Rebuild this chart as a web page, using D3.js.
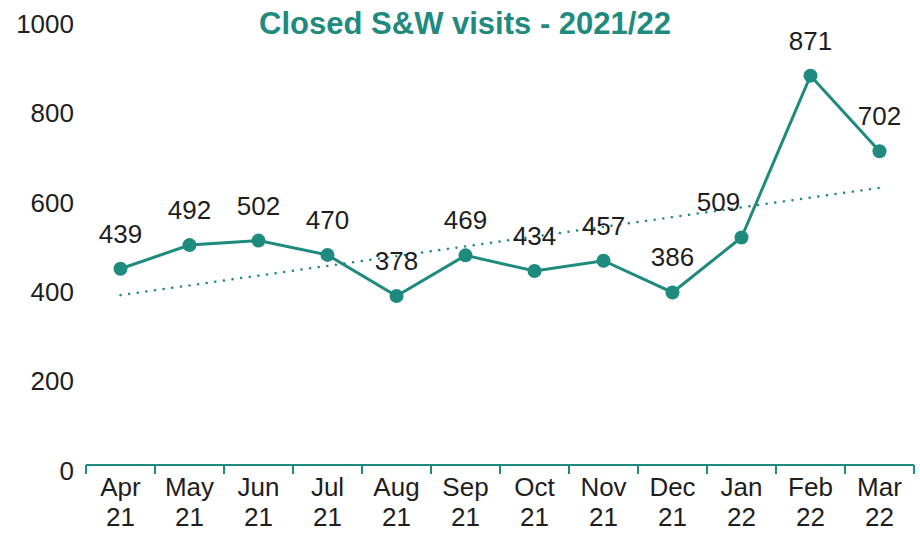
<!DOCTYPE html>
<html>
<head>
<meta charset="utf-8">
<script src="https://cdn.jsdelivr.net/npm/d3@7"></script>
<style>
  body { margin: 0; background: #fff; }
  text { font-family: "Liberation Sans", Arial, sans-serif; }
</style>
</head>
<body>
<div id="chart-area"></div>
<script>
// data
var months = ["Apr", "May", "Jun", "Jul", "Aug", "Sep", "Oct", "Nov", "Dec", "Jan", "Feb", "Mar"];
var years = ["21", "21", "21", "21", "21", "21", "21", "21", "21", "22", "22", "22"];
var visits = [439, 492, 502, 470, 378, 469, 434, 457, 386, 509, 871, 702];
var trendEnds = [380, 620]; // dotted trend line, first and last month
var yTicks = [0, 200, 400, 600, 800, 1000];

var width = 920,
    height = 533,
    teal = "#1f8a7e",
    ink = "#1e1e1e";

var svg = d3.select("#chart-area")
    .append("svg")
        .attr("width", width)
        .attr("height", height);

var cats = months.map(function(m, i) { return m + " " + years[i]; });

var x = d3.scaleBand()
    .domain(cats)
    .range([86, 914]);

var y = d3.scaleLinear()
    .domain([0, 1000])
    .range([465, 18]);

function cx(i) { return x(cats[i]) + x.bandwidth() / 2; }

// title
svg.append("text")
    .attr("x", 465)
    .attr("y", 34)
    .attr("text-anchor", "middle")
    .style("font-size", "31px")
    .style("font-weight", "bold")
    .style("fill", teal)
    .text("Closed S&W visits - 2021/22");

// y axis: labels only
var yAxis = svg.append("g")
    .attr("transform", "translate(74,0)")
    .call(d3.axisLeft(y).tickValues(yTicks).tickFormat(d3.format("d")).tickSize(0).tickPadding(0));
yAxis.select(".domain").remove();
yAxis.selectAll("text")
    .attr("dy", "0.55em")
    .style("font-size", "26px")
    .style("fill", ink);

// x axis: ticks at band boundaries
var xAxis = svg.append("g")
    .attr("transform", "translate(0," + y(0) + ")");
xAxis.append("line")
    .attr("x1", x.range()[0])
    .attr("x2", x.range()[1])
    .attr("stroke", teal)
    .attr("stroke-width", 2);
xAxis.selectAll(".tick")
    .data(cats.concat(["end"]))
  .enter().append("line")
    .attr("x1", function(d, i) { return x.range()[0] + i * x.step(); })
    .attr("x2", function(d, i) { return x.range()[0] + i * x.step(); })
    .attr("y1", 0)
    .attr("y2", 9)
    .attr("stroke", teal)
    .attr("stroke-width", 2);

var lbl = xAxis.selectAll(".cat")
    .data(cats)
  .enter().append("text")
    .attr("class", "cat")
    .attr("text-anchor", "middle")
    .style("font-size", "26px")
    .style("fill", ink);
lbl.append("tspan")
    .attr("x", function(d, i) { return cx(i); })
    .attr("y", 31)
    .text(function(d, i) { return months[i]; });
lbl.append("tspan")
    .attr("x", function(d, i) { return cx(i); })
    .attr("y", 61)
    .text(function(d, i) { return years[i]; });

// trend line
svg.append("line")
    .attr("x1", cx(0))
    .attr("y1", y(trendEnds[0]))
    .attr("x2", cx(cats.length - 1))
    .attr("y2", y(trendEnds[1]))
    .attr("stroke", teal)
    .attr("stroke-width", 2.5)
    .attr("stroke-linecap", "round")
    .attr("stroke-dasharray", "0.1,8.6");

// series line
var line = d3.line()
    .x(function(d, i) { return cx(i); })
    .y(function(d) { return y(d); });

svg.append("path")
    .datum(visits)
    .attr("d", line)
    .attr("fill", "none")
    .attr("stroke", teal)
    .attr("stroke-width", 3);

svg.selectAll(".dot")
    .data(visits)
  .enter().append("circle")
    .attr("class", "dot")
    .attr("cx", function(d, i) { return cx(i); })
    .attr("cy", function(d) { return y(d); })
    .attr("r", 7)
    .attr("fill", teal);

// value labels
svg.selectAll(".val")
    .data(visits)
  .enter().append("text")
    .attr("class", "val")
    .attr("x", function(d, i) { return cx(i) + (i === 9 ? -23 : 0); })
    .attr("y", function(d) { return y(d) - 26; })
    .attr("text-anchor", "middle")
    .style("font-size", "26px")
    .style("fill", ink)
    .text(function(d) { return d; });
</script>
</body>
</html>
